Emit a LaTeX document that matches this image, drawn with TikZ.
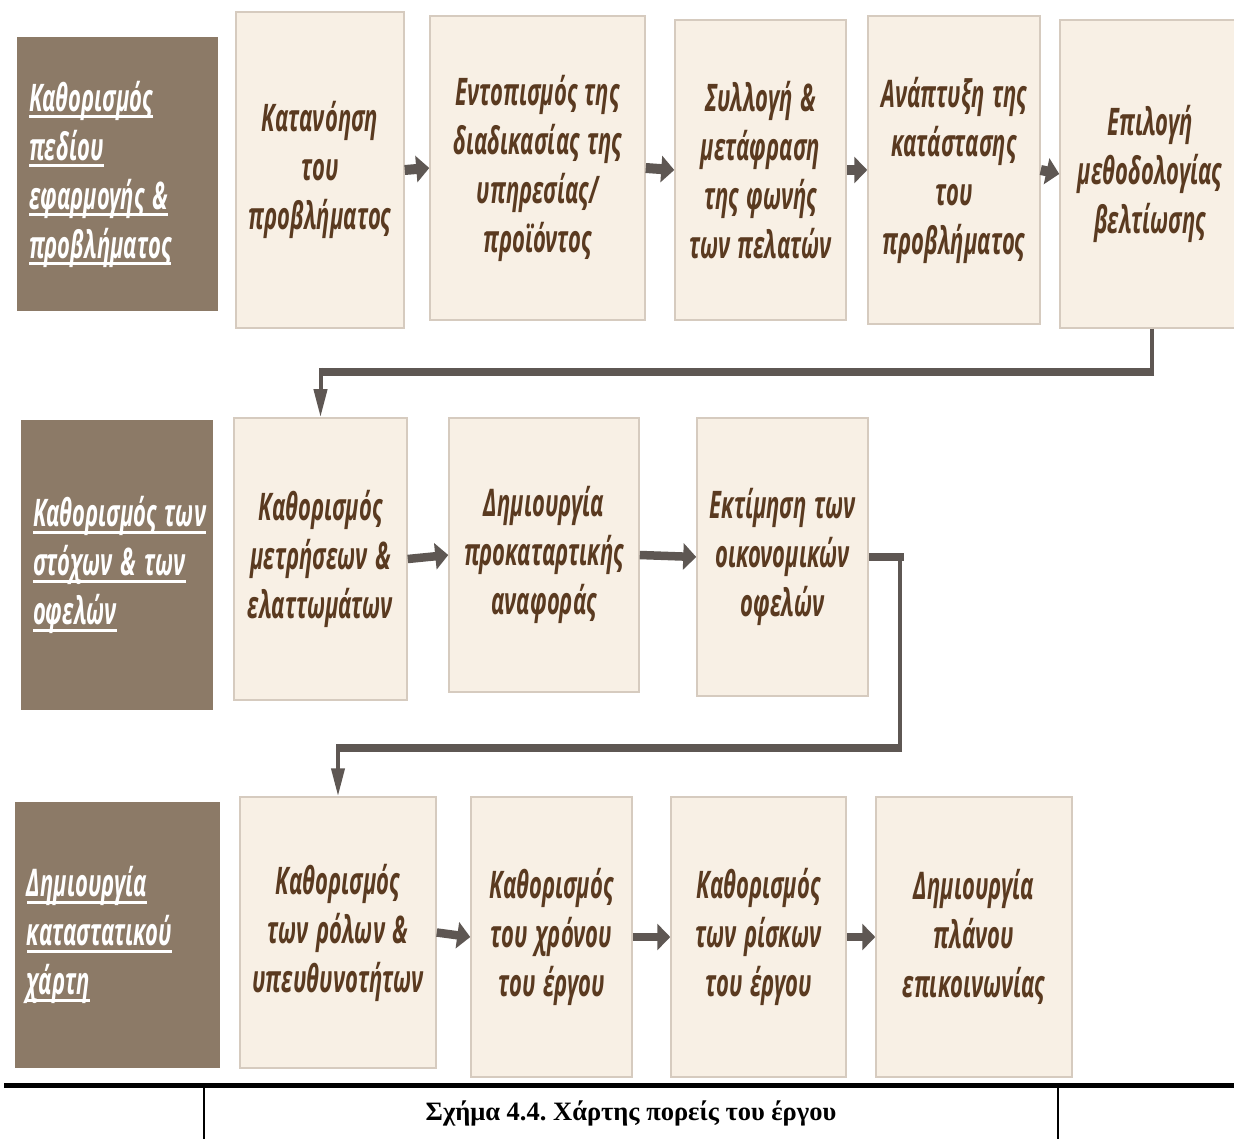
\documentclass[tikz,border=0pt]{standalone}
\usepackage{fontspec}
\usetikzlibrary{arrows.meta}
\newfontfamily\boxfont[FakeStretch=0.58, WordSpace=1.3]{Open Sans}
\newfontfamily\capfont{Liberation Serif}
\definecolor{darkbox}{HTML}{8C7A67}
\definecolor{boxfill}{HTML}{F8F0E5}
\definecolor{boxedge}{HTML}{D6CBBF}
\definecolor{txtbrown}{HTML}{5A3A20}
\definecolor{arrowgray}{HTML}{5E5753}
% underlined line for the phase headings
\newcommand\ulbar[1]{\leavevmode\setbox0=\hbox{\spaceskip=8pt\relax #1}%
  \rlap{\rule[-7pt]{\wd0}{2.6pt}}\box0}
\tikzset{
  phase/.style={fill=darkbox, draw=none, text=white, align=left,
    inner xsep=12pt, anchor=center,
    font={\boxfont\bfseries\itshape\fontsize{38}{49}\selectfont}},
  stepbox/.style={fill=boxfill, draw=boxedge, line width=1.5pt, text=txtbrown,
    align=center, inner sep=0pt,
    font={\boxfont\bfseries\itshape\fontsize{38}{49}\selectfont}},
  harrow/.style={draw=arrowgray, line width=10pt,
    -{Triangle[width=26pt,length=13pt]}},
  hseg/.style={draw=arrowgray, line width=8.5pt},
  vseg/.style={draw=arrowgray, line width=4pt},
  varrow/.style={draw=arrowgray, line width=4pt,
    -{Triangle[width=13pt,length=28pt]}}
}
\begin{document}
\begin{tikzpicture}[x=1pt,y=-1pt]
\useasboundingbox (0,0) rectangle (1234,1139);

% ---- row 1
\node[phase, minimum width=201pt, minimum height=274pt, text width=177pt] (d1) at (117.5,174)
  {\ulbar{Καθορισμός}\\\ulbar{πεδίου}\\\ulbar{εφαρμογής \&}\\\ulbar{προβλήματος}};
\node[stepbox, minimum width=168pt, minimum height=316pt] (b1) at (320,170)
  {Κατανόηση\\του\\προβλήματος};
\node[stepbox, minimum width=215pt, minimum height=304pt] (b2) at (537.5,168)
  {Εντοπισμός της\\διαδικασίας της\\υπηρεσίας/\\προϊόντος};
\node[stepbox, minimum width=171pt, minimum height=300pt] (b3) at (760.5,170)
  {Συλλογή \&\\μετάφραση\\της φωνής\\των πελατών};
\node[stepbox, minimum width=172pt, minimum height=308pt] (b4) at (954,170)
  {Ανάπτυξη της\\κατάστασης\\του\\προβλήματος};
\node[stepbox, minimum width=180pt, minimum height=308pt] (b5) at (1150,174)
  {Επιλογή\\μεθοδολογίας\\βελτίωσης};

\draw[harrow] (b1.east) -- (b2.west);
\draw[harrow] (b2.east) -- (b3.west);
\draw[harrow] (b3.east) -- (b4.west);
\draw[harrow] (b4.east) -- (b5.west);

% ---- row 2
\node[phase, minimum width=192pt, minimum height=290pt, text width=168pt] (d2) at (117,565)
  {\ulbar{Καθορισμός των}\\\ulbar{στόχων \& των}\\\ulbar{οφελών}};
\node[stepbox, minimum width=173pt, minimum height=282pt] (c1) at (320.5,559)
  {Καθορισμός\\μετρήσεων \&\\ελαττωμάτων};
\node[stepbox, minimum width=190pt, minimum height=274pt] (c2) at (544,555)
  {Δημιουργία\\προκαταρτικής\\αναφοράς};
\node[stepbox, minimum width=171pt, minimum height=278pt] (c3) at (782.5,557)
  {Εκτίμηση των\\οικονομικών\\οφελών};

\draw[harrow, line width=8.5pt] (c1.east) -- (c2.west);
\draw[harrow, line width=8.5pt] (c2.east) -- (c3.west);

% ---- row 3
\node[phase, minimum width=205pt, minimum height=266pt, text width=181pt] (d3) at (117.5,935)
  {\ulbar{Δημιουργία}\\\ulbar{καταστατικού}\\\ulbar{χάρτη}};
\node[stepbox, minimum width=196pt, minimum height=271pt] (e1) at (338,932.5)
  {Καθορισμός\\των ρόλων \&\\υπευθυνοτήτων};
\node[stepbox, minimum width=161pt, minimum height=280pt] (e2) at (551.5,937)
  {Καθορισμός\\του χρόνου\\του έργου};
\node[stepbox, minimum width=175pt, minimum height=280pt] (e3) at (758.5,937)
  {Καθορισμός\\των ρίσκων\\του έργου};
\node[stepbox, minimum width=196pt, minimum height=280pt] (e4) at (974,937)
  {Δημιουργία\\πλάνου\\επικοινωνίας};

\draw[harrow, line width=8.5pt] (e1.east) -- (e2.west);
\draw[harrow, line width=8.5pt] (e2.east) -- (e3.west);
\draw[harrow, line width=8.5pt] (e3.east) -- (e4.west);

% ---- link from row 1 to row 2
\coordinate (r1a) at ([xshift=2pt]b5.south |- 0,376);
\coordinate (r1b) at ([xshift=2pt]b5.south |- 0,372);
\coordinate (r1c) at (c1.north |- 0,372);
\coordinate (r1d) at (c1.north |- 0,368);
\draw[vseg] ([xshift=2pt]b5.south) -- (r1a);
\draw[hseg] ([xshift=2pt]r1b) -- ([xshift=-2pt]r1c);
\draw[varrow] (r1d) -- (c1.north);

% ---- link from row 2 to row 3
\coordinate (r2a) at (904,557);
\coordinate (r2b) at (900,553);
\coordinate (r2c) at (900,752);
\coordinate (r2d) at (902,748);
\coordinate (r2e) at (e1.north |- 0,748);
\coordinate (r2f) at (e1.north |- 0,744);
\draw[hseg] (c3.east) -- (r2a);
\draw[vseg] (r2b) -- (r2c);
\draw[hseg] (r2d) -- ([xshift=-2pt]r2e);
\draw[varrow] (r2f) -- (e1.north);

% ---- caption table
\coordinate (ruleL) at (4,1085.5);
\coordinate (ruleR) at (1234,1085.5);
\draw[line width=4.5pt, black] (ruleL) -- (ruleR);
\coordinate (colL) at (204,1087);
\coordinate (colR) at (1058,1087);
\draw[line width=1.5pt, black] (colL) -- (204,1139);
\draw[line width=1.5pt, black] (colR) -- (1058,1139);
\node[font={\capfont\bfseries\fontsize{26.5}{30}\selectfont\frenchspacing}, inner sep=0pt] (cap) at (631,1113)
  {Σχήμα 4.4. Χάρτης πορείς του έργου};
\end{tikzpicture}
\end{document}
